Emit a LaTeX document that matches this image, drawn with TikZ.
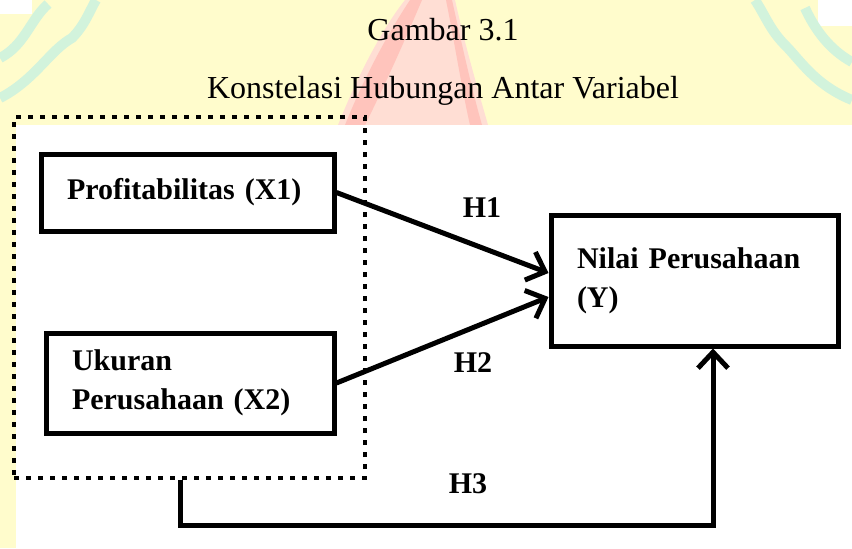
\documentclass[tikz,border=0pt]{standalone}
\usepackage{fontspec}
\setmainfont{Liberation Serif}
\usetikzlibrary{arrows.meta}
\definecolor{wmyellow}{RGB}{255,252,204}
\definecolor{wmgreen}{RGB}{210,243,220}
\definecolor{wmpink}{RGB}{255,222,212}
\definecolor{wmred}{RGB}{255,196,188}
\tikzset{
  box/.style={draw, line width=2.5pt, align=left, inner xsep=13pt,
    font=\bfseries\fontsize{15}{19.5}\selectfont},
  group/.style={draw, line width=2.4pt, dash pattern=on 2.4pt off 3.6pt},
  link/.style={line width=2.5pt, -{Straight Barb[length=8pt,width=15pt]}},
  hyp/.style={anchor=base, font=\bfseries\fontsize{15}{18}\selectfont},
  head/.style={anchor=base, font=\fontsize{16}{19}\selectfont}
}
\begin{document}
\begin{tikzpicture}[x=0.5pt,y=-0.5pt]
\useasboundingbox (0,0) rectangle (852,548);
\fill[wmyellow] (0,0) rectangle (852,548);
\begin{scope}
\clip (0,0) rectangle (852,125);
\fill[white] (0,0) rectangle (32,14);
\fill[white] (818,0) rectangle (852,26);
\draw[wmgreen, line width=5pt] (0,58) .. controls (25,45) and (30,20) .. (48,4);
\draw[wmgreen, line width=5pt] (0,98) .. controls (35,80) and (50,50) .. (72,38) .. controls (85,25) and (90,10) .. (96,0);
\draw[wmgreen, line width=5pt] (852,62) .. controls (830,50) and (815,30) .. (805,8);
\draw[wmgreen, line width=5pt] (852,100) .. controls (815,85) and (800,60) .. (785,45) .. controls (770,30) and (765,15) .. (755,0);
\fill[wmpink] (338,125) .. controls (360,70) and (385,25) .. (405,0) -- (455,0)
  .. controls (465,45) and (478,90) .. (488,125) -- cycle;
\fill[wmred] (345,125) .. controls (365,75) and (390,30) .. (410,0) -- (422,0)
  .. controls (405,40) and (385,85) .. (365,125) -- cycle;
\fill[wmred] (452,0) .. controls (462,45) and (472,90) .. (482,125) -- (470,125)
  .. controls (462,90) and (455,45) .. (446,0) -- cycle;
\end{scope}
\fill[white] (16,125) rectangle (852,548);

\node[head] (title) at (443,40) {Gambar 3.1};
\node[head] (subtitle) at (443,98) {Konstelasi Hubungan Antar Variabel};

\node[group, minimum width=175.5pt, minimum height=180.5pt] (grp) at (189.5,297.5) {};
\node[box, text width=120.5pt, minimum height=38.5pt] (x1) at (187.5,192.5) {Profitabilitas (X1)};
\node[box, text width=118pt, minimum height=50pt] (x2) at (190,383) {Ukuran\\Perusahaan (X2)};
\node[box, text width=117.5pt, minimum height=65.5pt] (y) at (694.5,280.5) {Nilai Perusahaan\\(Y)};

\draw[link] (x1.east) -- ([yshift=3.75pt]y.west);
\draw[link] (x2.east) -- ([yshift=-8.25pt]y.west);
\draw[link] ([xshift=-4.75pt]grp.south) -- ++(0,45) -| ([xshift=9.25pt]y.south);

\node[hyp] (h1) at (482,217) {H1};
\node[hyp] (h2) at (473,372) {H2};
\node[hyp] (h3) at (468,493) {H3};
\end{tikzpicture}
\end{document}
